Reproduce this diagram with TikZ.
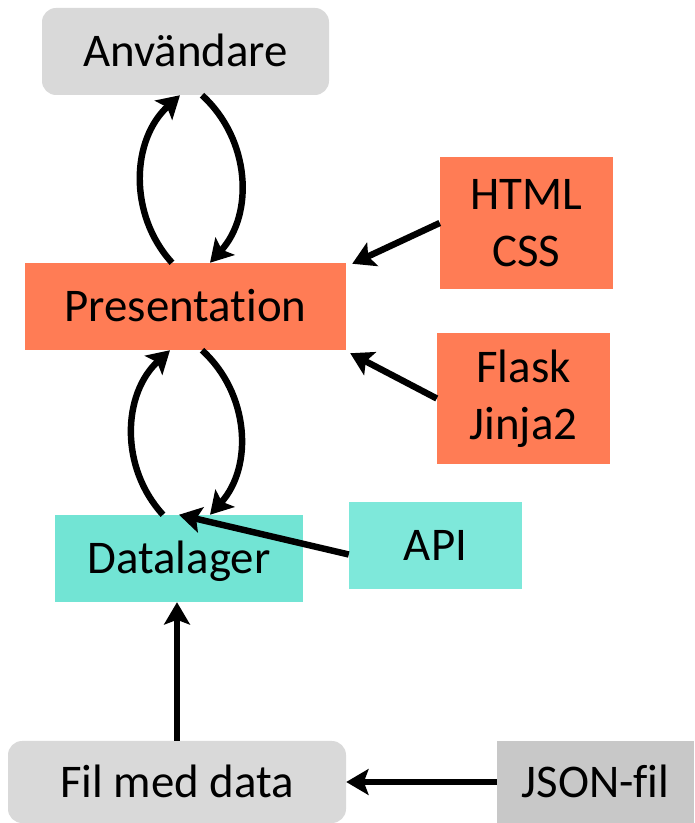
\documentclass[tikz,border=0pt]{standalone}
\usepackage{fontspec}
\setmainfont{Carlito}[Ligatures={NoCommon,NoRare}, RawFeature={-liga;-dlig;-clig}]
\usetikzlibrary{arrows.meta,calc}

\definecolor{boxgrey}{HTML}{D9D9D9}
\definecolor{darkgrey}{HTML}{C8C8C8}
\definecolor{coral}{HTML}{FF7C55}
\definecolor{teal}{HTML}{72E4D4}
\definecolor{lightteal}{HTML}{7EE8DA}

\tikzset{
  layer/.style={inner sep=0pt, align=center, font=\fontsize{40}{49}\selectfont},
  oneline/.style={text height=26pt, text depth=0pt},
  flow/.style={line width=5.5pt, -{Stealth[length=19pt, width=22pt, inset=4pt]}}
}

\begin{document}
\begin{tikzpicture}[x=0.03cm, y=0.03cm]
\clip (0,0) rectangle (694,823);

% Layers
\node[layer, oneline, fill=boxgrey, rounded corners=12, minimum width=287*0.03cm, minimum height=87*0.03cm] (anvandare) at (185.5,771.5) {Användare};
\node[layer, oneline, fill=coral, minimum width=321*0.03cm, minimum height=87*0.03cm] (presentation) at (185.5,516.5) {Presentat\kern0pt ion};
\node[layer, oneline, fill=teal, minimum width=248*0.03cm, minimum height=87*0.03cm] (datalager) at (179,264.5) {Datalager};
\node[layer, oneline, fill=boxgrey, rounded corners=12, minimum width=338*0.03cm, minimum height=82*0.03cm] (fil) at (177,41) {Fil med data};

% Tools
\node[layer, fill=coral, minimum width=173*0.03cm, minimum height=132*0.03cm] (htmlcss) at (526.5,600) {HTML\\CSS};
\node[layer, fill=coral, minimum width=173*0.03cm, minimum height=131*0.03cm] (flaskjinja) at (523.5,424.5) {Flask\\Jinja2};
\node[layer, oneline, fill=lightteal, minimum width=173*0.03cm, minimum height=87*0.03cm] (api) at (435.5,277.5) {API};
\node[layer, oneline, fill=darkgrey, minimum width=197*0.03cm, minimum height=82*0.03cm] (json) at (595.5,41) {JSON-fil};

% Between the layers
\draw[flow] ($(presentation.north)+(-13.5,0)$) to[bend left=45] ($(anvandare.south)+(-5.5,0)$);
\draw[flow] ($(anvandare.south)+(16.5,0)$) to[bend left=45] ($(presentation.north)+(24.5,0)$);
\draw[flow] ($(datalager.north)+(-16,0)$) to[bend left=45] ($(presentation.south)+(-15.5,0)$);
\draw[flow] ($(presentation.south)+(16.5,0)$) to[bend left=45] ($(datalager.north)+(31,0)$);
\draw[flow] (fil.north) -- (fil.north |- datalager.south);

% Tools into layers
\draw[flow] (htmlcss.west) -- ($(presentation.north east)+(6,-1)$);
\draw[flow] (flaskjinja.west) -- ($(presentation.south east)+(4,-3)$);
\draw[flow] ($(api.west)+(0,-9)$) -- (datalager.north);
\draw[flow] (json.west) -- (fil.east);
\end{tikzpicture}
\end{document}
